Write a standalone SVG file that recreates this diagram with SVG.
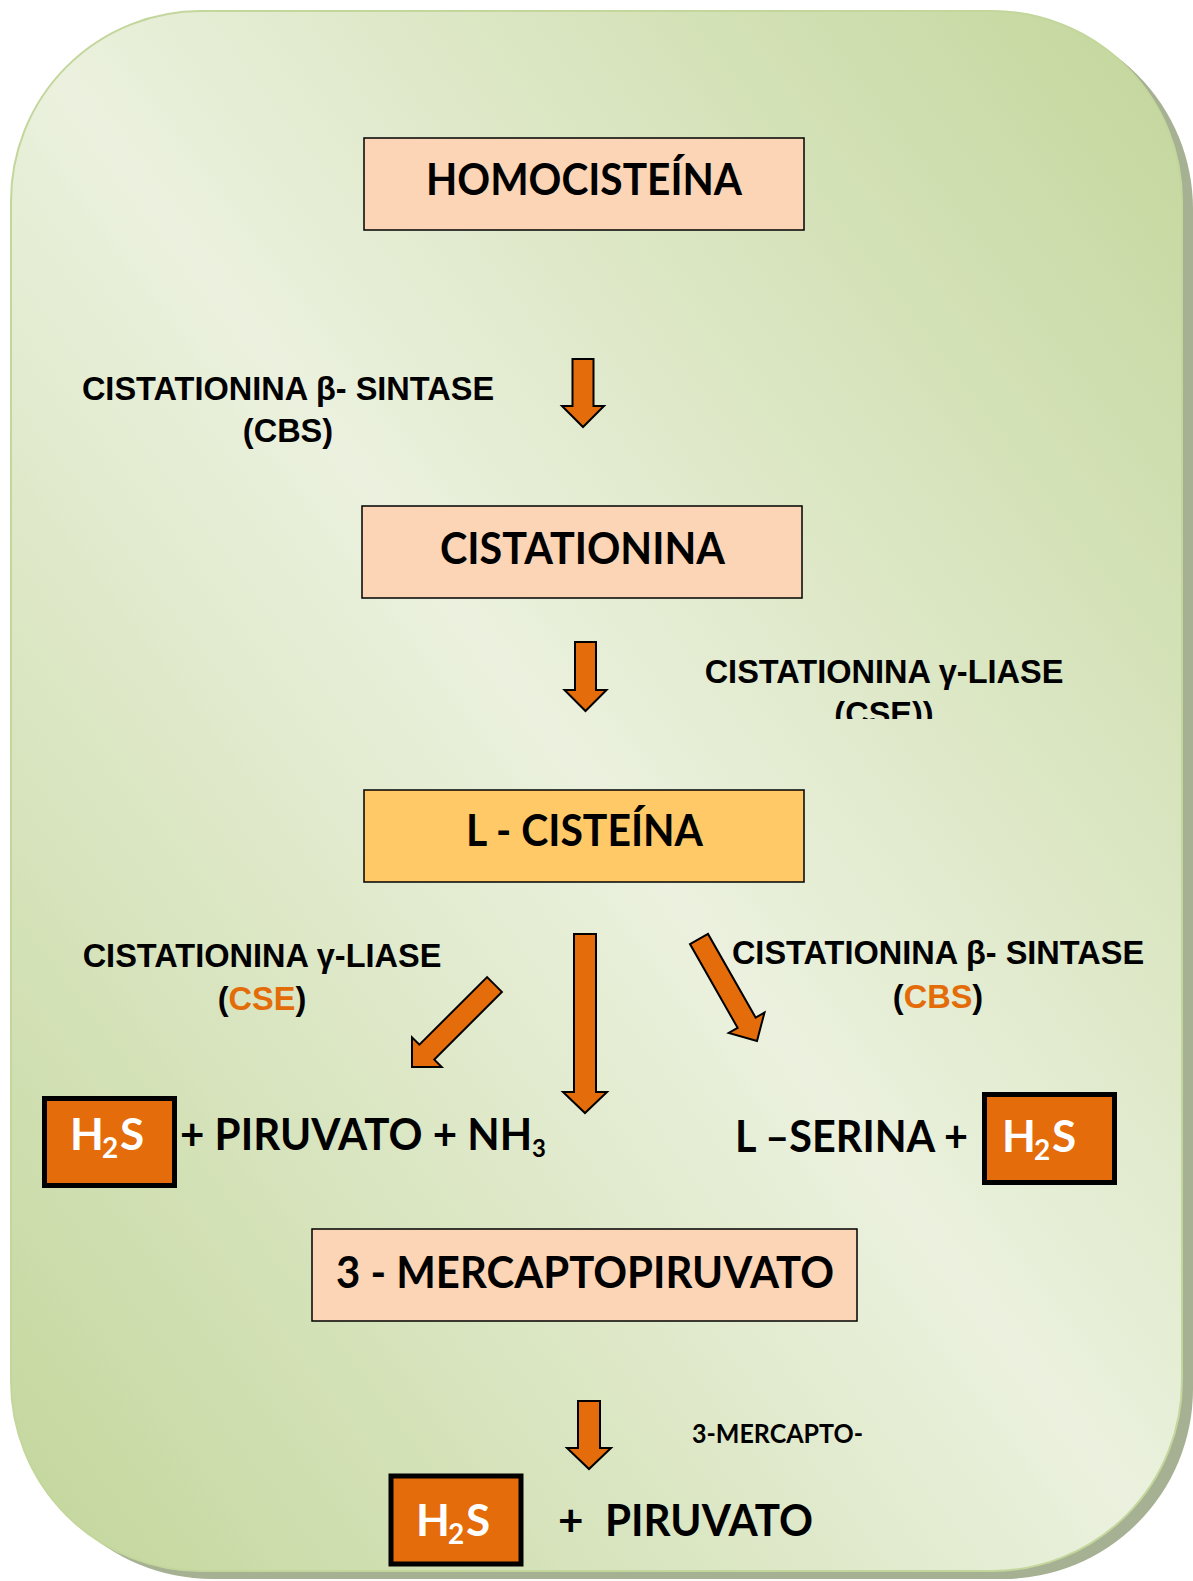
<svg xmlns="http://www.w3.org/2000/svg" width="1193" height="1581" viewBox="0 0 1193 1581">
<style>
.box{fill:#fbd5b5;stroke:#000;stroke-width:1.5}
.boxy{fill:#fec966;stroke:#000;stroke-width:1.5}
.arrow{fill:#e46c0a;stroke:#000;stroke-width:2;stroke-linejoin:miter}
.h2s{fill:#e46c0a;stroke:#000;stroke-width:5}
.cal{font-family:Lato,"Noto Sans",sans-serif;font-weight:bold;fill:#000}
.wh{fill:#fff}
.enz{font-family:"Liberation Sans",Arial,sans-serif;font-weight:bold;font-size:32.5px;fill:#000;text-anchor:middle}
.or{fill:#e36c09}
</style>
<defs>
<linearGradient id="bg" x1="1" y1="0" x2="0" y2="1">
<stop offset="0" stop-color="#c3d69b"/>
<stop offset="0.5" stop-color="#ebf1de"/>
<stop offset="1" stop-color="#c3d69b"/>
</linearGradient>
<clipPath id="clipCse"><rect x="600" y="640" width="560" height="79"/></clipPath>
</defs>
<g id="background">
<rect x="22" y="19" width="1171" height="1560" rx="190" ry="190" fill="#a6b093"/>
<rect x="11" y="11" width="1171" height="1560" rx="190" ry="190" fill="url(#bg)" stroke="#c3d69b" stroke-width="2"/>
</g>
<g id="connectors">
<polygon class="arrow" points="572.5,359 593.5,359 593.5,406 604,406 583,427 562,406 572.5,406"/>
<polygon class="arrow" points="575,642 596,642 596,690 606.5,690 585.5,711 564.5,690 575,690"/>
<polygon class="arrow" points="574,934 596,934 596,1092 607,1092 585,1113 563,1092 574,1092"/>
<polygon class="arrow" points="487.1,977.1 501.9,991.9 434.3,1059.6 441.7,1067 412,1067 412,1037.3 419.4,1044.7"/>
<polygon class="arrow" points="690,944.1 708,933.9 755.6,1017.6 764.5,1012.5 757,1041 728.7,1032.9 737.6,1027.8"/>
<polygon class="arrow" points="578,1401 600,1401 600,1448 611,1448 589,1469 567,1448 578,1448"/>
</g>
<g id="homocisteina">
<rect class="box" x="364" y="138" width="440" height="92"/>
<text class="cal" x="426" y="195" font-size="43" textLength="316" lengthAdjust="spacingAndGlyphs">HOMOCISTEÍNA</text>
</g>
<g id="cistationina">
<rect class="box" x="362" y="506" width="440" height="92"/>
<text class="cal" x="440" y="564" font-size="43" textLength="285" lengthAdjust="spacingAndGlyphs">CISTATIONINA</text>
</g>
<g id="l-cisteina">
<rect class="boxy" x="364" y="790" width="440" height="92"/>
<text class="cal" x="466" y="846" font-size="43" textLength="237" lengthAdjust="spacingAndGlyphs">L - CISTEÍNA</text>
</g>
<g id="mercaptopiruvato">
<rect class="box" x="312" y="1229" width="545" height="92"/>
<text class="cal" x="336" y="1288" font-size="43" textLength="498" lengthAdjust="spacingAndGlyphs">3 - MERCAPTOPIRUVATO</text>
</g>
<g id="label-cbs-top">
<text class="enz" x="288" y="400">CISTATIONINA β- SINTASE</text>
<text class="enz" x="288" y="442">(CBS)</text>
</g>
<g id="label-cse-top" clip-path="url(#clipCse)">
<text class="enz" x="884" y="683">CISTATIONINA γ-LIASE</text>
<text class="enz" x="884" y="725">(CSE))</text>
</g>
<g id="label-cse">
<text class="enz" x="262" y="967">CISTATIONINA γ-LIASE</text>
<text class="enz" x="262" y="1010">(<tspan class="or">CSE</tspan>)</text>
</g>
<g id="label-cbs">
<text class="enz" x="938" y="964">CISTATIONINA β- SINTASE</text>
<text class="enz" x="938" y="1008">(<tspan class="or">CBS</tspan>)</text>
</g>
<g id="h2s-left">
<rect class="h2s" x="44.5" y="1098.5" width="130" height="87"/>
<text class="cal wh" y="1150" font-size="44"><tspan x="70">H</tspan><tspan x="102" dy="8" font-size="28">2</tspan><tspan x="120" dy="-8">S</tspan></text>
</g>
<g id="products-left">
<text class="cal" x="180" y="1150" font-size="44" textLength="366" lengthAdjust="spacingAndGlyphs">+ PIRUVATO + NH<tspan dy="7" font-size="25">3</tspan></text>
</g>
<g id="products-right">
<text class="cal" x="735" y="1152" font-size="44" textLength="233" lengthAdjust="spacingAndGlyphs">L –SERINA +</text>
</g>
<g id="h2s-right">
<rect class="h2s" x="984.5" y="1094.5" width="130" height="88"/>
<text class="cal wh" y="1152" font-size="44"><tspan x="1002">H</tspan><tspan x="1034" dy="8" font-size="28">2</tspan><tspan x="1052" dy="-8">S</tspan></text>
</g>
<g id="label-3mst">
<text class="cal" x="692" y="1443" font-size="26" textLength="171" lengthAdjust="spacingAndGlyphs">3-MERCAPTO-</text>
</g>
<g id="h2s-bottom">
<rect class="h2s" x="391" y="1476" width="130" height="88"/>
<text class="cal wh" y="1536" font-size="44"><tspan x="416">H</tspan><tspan x="448" dy="8" font-size="28">2</tspan><tspan x="466" dy="-8">S</tspan></text>
</g>
<g id="products-bottom">
<text class="cal" x="558" y="1536" font-size="44">+</text>
<text class="cal" x="605" y="1536" font-size="44" textLength="208" lengthAdjust="spacingAndGlyphs">PIRUVATO</text>
</g>
</svg>
